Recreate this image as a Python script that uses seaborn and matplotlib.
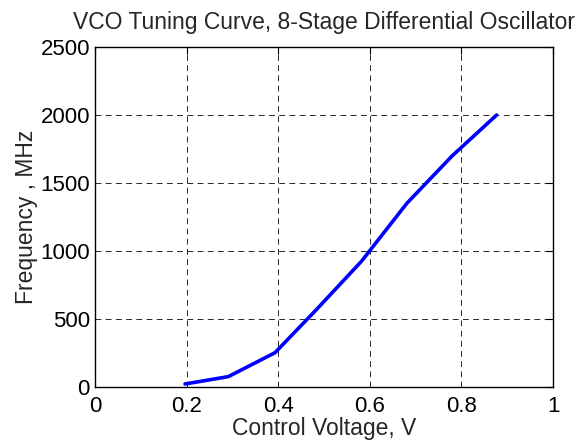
import matplotlib
matplotlib.use("Agg")
import matplotlib.pyplot as plt
import seaborn as sns
import pandas as pd

# Measured tuning curve of the 8-stage differential ring VCO
control_voltage = [0.1965, 0.291, 0.393, 0.484, 0.582, 0.681, 0.780, 0.877]
frequency_mhz = [22, 76, 252, 571, 925, 1351, 1700, 2000]

x_ticks = [0, 0.2, 0.4, 0.6, 0.8, 1]
x_tick_labels = ["0", "0.2", "0.4", "0.6", "0.8", "1"]
y_ticks = [0, 500, 1000, 1500, 2000, 2500]
y_tick_labels = ["0", "500", "1000", "1500", "2000", "2500"]

sns.set_style("white")
plt.rcParams["font.family"] = ["Liberation Sans", "DejaVu Sans"]

df = pd.DataFrame({"Vctrl": control_voltage, "f": frequency_mhz})

fig = plt.figure(figsize=(5.82, 4.40), dpi=100)
ax = fig.add_axes([0.1632, 0.1205, 0.7870, 0.7727])

sns.lineplot(data=df, x="Vctrl", y="f", ax=ax, color="#0000ff",
             linewidth=2.6, estimator=None, sort=False)

ax.set_xlim(0, 1)
ax.set_ylim(0, 2500)
ax.set_xticks(x_ticks)
ax.set_xticklabels(x_tick_labels)
ax.set_yticks(y_ticks)
ax.set_yticklabels(y_tick_labels)

ax.grid(True, color="black", linestyle=(0, (6, 4.5)), linewidth=0.7, alpha=0.85)
ax.tick_params(direction="in", length=5, width=0.8, colors="black",
               labelsize=16, top=True, right=True)
ax.tick_params(axis="x", pad=6.5)
ax.tick_params(axis="y", pad=3.6)
for side in ax.spines.values():
    side.set_color("black")
    side.set_linewidth(1.0)

ax.set_xlabel("Control Voltage, V", fontsize=16.5)
ax.xaxis.set_label_coords(0.5, -0.088)
ax.set_ylabel("Frequency , MHz", fontsize=16.5)
ax.yaxis.set_label_coords(-0.125, 0.5)
ax.set_title("VCO Tuning Curve, 8-Stage Differential Oscillator", fontsize=16.5, pad=12.7)

fig.savefig("out.png", dpi=100)
